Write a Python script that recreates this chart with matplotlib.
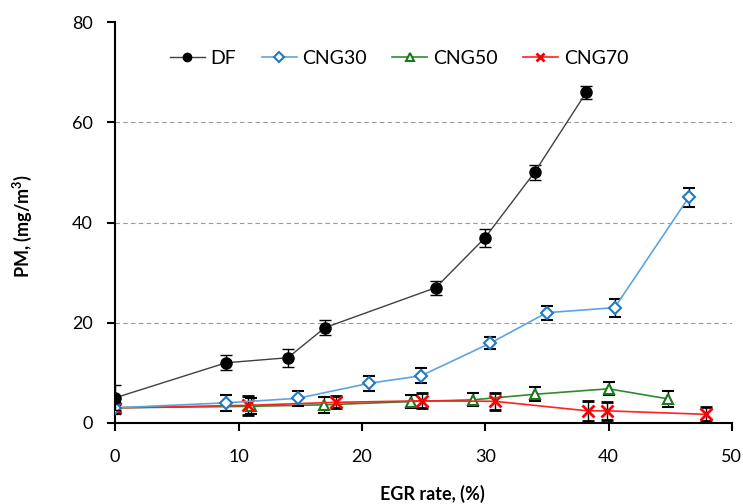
import numpy as np
import matplotlib
matplotlib.use('Agg')
import matplotlib.pyplot as plt
from matplotlib.lines import Line2D

plt.rcParams['font.family'] = ['Lato', 'DejaVu Sans']

# data
df_x = [0, 9, 14, 17, 26, 30, 34, 38.2]
df_y = [5, 12, 13, 19, 27, 37, 50, 66]
df_err = [2.5, 1.5, 1.8, 1.5, 1.4, 1.8, 1.5, 1.3]

cng30_x = [0, 9, 14.8, 20.6, 24.8, 30.4, 35, 40.5, 46.5]
cng30_y = [3, 4, 4.9, 7.9, 9.4, 15.9, 22, 23, 45]
cng30_err = [1.2, 1.6, 1.5, 1.5, 1.5, 1.2, 1.4, 1.8, 1.9]

cng50_x = [0, 11, 16.9, 24, 29, 34, 40, 44.8]
cng50_y = [3, 3.3, 3.6, 4.25, 4.6, 5.7, 6.8, 4.8]
cng50_err = [1.2, 1.6, 1.6, 1.3, 1.3, 1.4, 1.3, 1.6]

cng70_x = [0, 10.8, 17.9, 24.9, 30.8, 38.3, 39.9, 47.9]
cng70_y = [3, 3.5, 4.1, 4.4, 4.3, 2.4, 2.4, 1.7]
cng70_err = [0.8, 1.9, 1.2, 1.5, 1.7, 2.0, 1.8, 1.4]

fig = plt.figure(figsize=(7.43, 5.04), dpi=100)
ax = fig.add_axes([0.155, 0.161, 0.83, 0.795])

eb = dict(ecolor='black', elinewidth=1, capsize=4, capthick=1)
styles = {
    'DF': dict(color='#404040', lw=1, marker='o', ms=8, mfc='black', mec='black'),
    'CNG30': dict(color='#5aa5e0', lw=1.2, marker='D', ms=6.5, mfc='white', mec='#1f78c8', mew=1.5),
    'CNG50': dict(color='#2e8b2e', lw=1.2, marker='^', ms=7.5, mfc='white', mec='#1a7a1a', mew=1.5),
    'CNG70': dict(color='#ff2020', lw=1.2, marker='x', ms=8, mec='#ff0000', mew=2),
}
ax.errorbar(df_x, df_y, yerr=df_err, zorder=5, **styles['DF'], **eb)
ax.errorbar(cng30_x, cng30_y, yerr=cng30_err, zorder=4, **styles['CNG30'], **eb)
ax.errorbar(cng50_x, cng50_y, yerr=cng50_err, zorder=3, **styles['CNG50'], **eb)
ax.errorbar(cng70_x, cng70_y, yerr=cng70_err, zorder=3, **styles['CNG70'], **eb)

ax.set_xlim(0, 50)
ax.set_ylim(0, 80)
ax.set_xticks(np.arange(0, 51, 10))
ax.set_yticks(np.arange(0, 81, 20))
for g in [20, 40, 60]:
    ax.axhline(g, color='#999999', lw=0.8, ls=(0, (4, 3)), zorder=0)

for s in ['top', 'right']:
    ax.spines[s].set_visible(False)
for s in ['left', 'bottom']:
    ax.spines[s].set_linewidth(1.5)
    ax.spines[s].set_color('black')
ax.tick_params(direction='out', length=6, width=1.5, labelsize=13)
ax.tick_params(axis='x', pad=13)
ax.tick_params(axis='y', pad=10)

ax.set_xlabel('EGR rate, (%)', fontsize=13, fontweight='bold')
ax.set_ylabel('PM, (mg/m$^\\mathregular{3}$)', fontsize=13, fontweight='bold')
ax.xaxis.set_label_coords(0.515, -0.155)
ax.yaxis.set_label_coords(-0.132, 0.49)

handles = [Line2D([], [], **styles[k]) for k in styles]
for h in handles:
    h.set_markersize(h.get_markersize() * 0.75)
ax.legend(handles, list(styles), loc='upper left', bbox_to_anchor=(0.06, 0.975), ncol=4,
          frameon=False, fontsize=14, handlelength=1.8, handletextpad=0.3, columnspacing=1.3)

fig.savefig('out.png', dpi=100)
